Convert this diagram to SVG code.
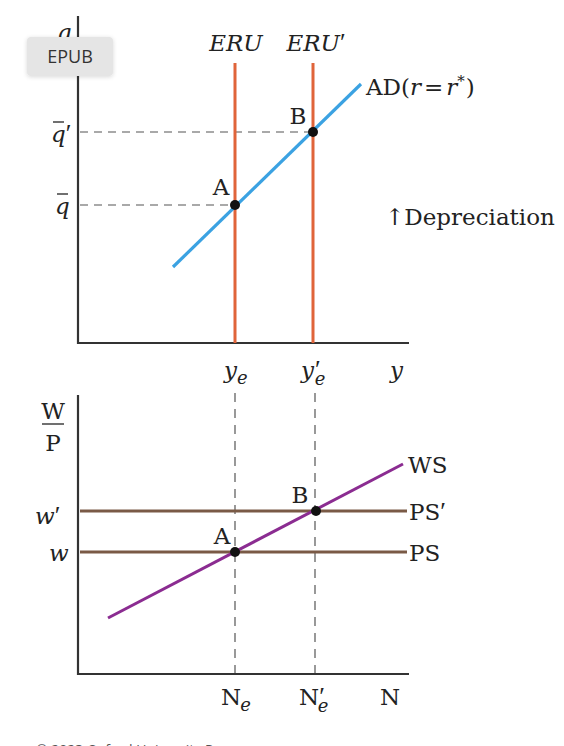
<svg xmlns="http://www.w3.org/2000/svg" width="564" height="746" viewBox="0 0 564 746">
<defs>
<style>
.ax{stroke:#333;stroke-width:2.2;fill:none}
.dash{stroke:#555;stroke-width:1.2;stroke-dasharray:8,6;fill:none}
.vdash{stroke:#555;stroke-width:1.2;stroke-dasharray:9,7;fill:none}
.eru{stroke:#e0643a;stroke-width:3;fill:none}
.ad{stroke:#3ba2e2;stroke-width:3.2;fill:none}
.ws{stroke:#8b2c91;stroke-width:3;fill:none}
.ps{stroke:#7a5a46;stroke-width:3;fill:none}
.pt{fill:#111}
.bar{stroke:#222;stroke-width:1.3}
.t{font-family:"DejaVu Serif","Liberation Serif",serif;font-size:23px;fill:#222}
.i{font-style:italic}
.sub{font-size:18px}
.pr{font-family:"Liberation Serif",serif;font-style:normal;font-size:26px}
</style>
<filter id="sh" x="-20%" y="-20%" width="140%" height="160%">
<feDropShadow dx="0" dy="1" stdDeviation="2" flood-color="#000" flood-opacity="0.15"/>
</filter>
</defs>
<rect width="564" height="746" fill="#fff"/>

<g id="top-axes">
<path class="ax" d="M78,16 V343 H409"/>
</g>
<g id="connectors">
<path class="dash" d="M80,132 H313"/>
<path class="dash" d="M80,205 H235"/>
<path class="vdash" d="M235,393 V673"/>
<path class="vdash" d="M315,393 V673"/>
</g>
<g id="ERU">
<line class="eru" x1="235" y1="63" x2="235" y2="343"/>
<text class="t i" x="236" y="51" text-anchor="middle">ERU</text>
</g>
<g id="ERU-prime">
<line class="eru" x1="313" y1="63" x2="313" y2="343"/>
<text class="t i" x="316" y="51" text-anchor="middle">ERU<tspan class="pr">′</tspan></text>
</g>
<g id="AD">
<line class="ad" x1="173" y1="267" x2="361" y2="84"/>
<text class="t" x="366" y="95">AD(<tspan class="i">r</tspan><tspan dx="3">=</tspan><tspan class="i" dx="3">r</tspan><tspan font-size="15" dy="-9">*</tspan><tspan dx="1" dy="9">)</tspan></text>
</g>
<g id="top-A">
<circle class="pt" cx="235" cy="205" r="5"/>
<text class="t" x="221" y="195" text-anchor="middle">A</text>
</g>
<g id="top-B">
<circle class="pt" cx="313" cy="132" r="5"/>
<text class="t" x="298" y="124" text-anchor="middle">B</text>
</g>
<g id="top-labels">
<text class="t i" x="57" y="40">q</text>
<text class="t i" x="51" y="142">q<tspan class="pr">′</tspan></text>
<line class="bar" x1="53" y1="122" x2="64" y2="122"/>
<text class="t i" x="55" y="214">q</text>
<line class="bar" x1="57" y1="194" x2="68" y2="194"/>
<text class="t" x="385" y="225" font-size="24">↑Depreciation</text>
<text class="t i" x="224" y="378">y<tspan class="sub" dy="6">e</tspan></text>
<text class="t i" x="301" y="378">y<tspan class="pr" dx="1">′</tspan><tspan class="sub" dx="-6" dy="7">e</tspan></text>
<text class="t i" x="390" y="378">y</text>
</g>

<g id="bottom-axes">
<path class="ax" d="M78,395 V674 H409"/>
</g>
<g id="PS-prime">
<line class="ps" x1="80" y1="511" x2="407" y2="511"/>
<text class="t" x="409" y="520">PS<tspan class="pr">′</tspan></text>
</g>
<g id="PS">
<line class="ps" x1="80" y1="552" x2="407" y2="552"/>
<text class="t" x="409" y="561">PS</text>
</g>
<g id="WS">
<line class="ws" x1="108" y1="618" x2="403" y2="464"/>
<text class="t" x="408" y="473">WS</text>
</g>
<g id="bottom-A">
<circle class="pt" cx="235" cy="552" r="5"/>
<text class="t" x="222" y="544" text-anchor="middle">A</text>
</g>
<g id="bottom-B">
<circle class="pt" cx="316" cy="511" r="5"/>
<text class="t" x="300" y="503" text-anchor="middle">B</text>
</g>
<g id="bottom-labels">
<text class="t" x="53" y="419" text-anchor="middle">W</text>
<line class="bar" x1="42" y1="424" x2="64" y2="424"/>
<text class="t" x="53" y="451" text-anchor="middle">P</text>
<text class="t i" x="35" y="524">w<tspan class="pr">′</tspan></text>
<text class="t i" x="49" y="561">w</text>
<text class="t" x="221" y="705">N<tspan class="i sub" dx="-1" dy="6">e</tspan></text>
<text class="t" x="299" y="705">N<tspan class="pr">′</tspan><tspan class="i sub" dx="-7" dy="7">e</tspan></text>
<text class="t" x="380" y="705">N</text>
</g>

<g id="EPUB">
<rect x="27" y="37" width="86" height="39" rx="4" fill="#e5e5e5" filter="url(#sh)"/>
<text x="70" y="63" text-anchor="middle" font-family="'Open Sans','Noto Sans',sans-serif" font-size="18" fill="#333">EPUB</text>
</g>
<text x="36" y="755" font-family="'Open Sans','Noto Sans',sans-serif" font-size="14" fill="#555">© 2023 Oxford University Press</text>
</svg>
